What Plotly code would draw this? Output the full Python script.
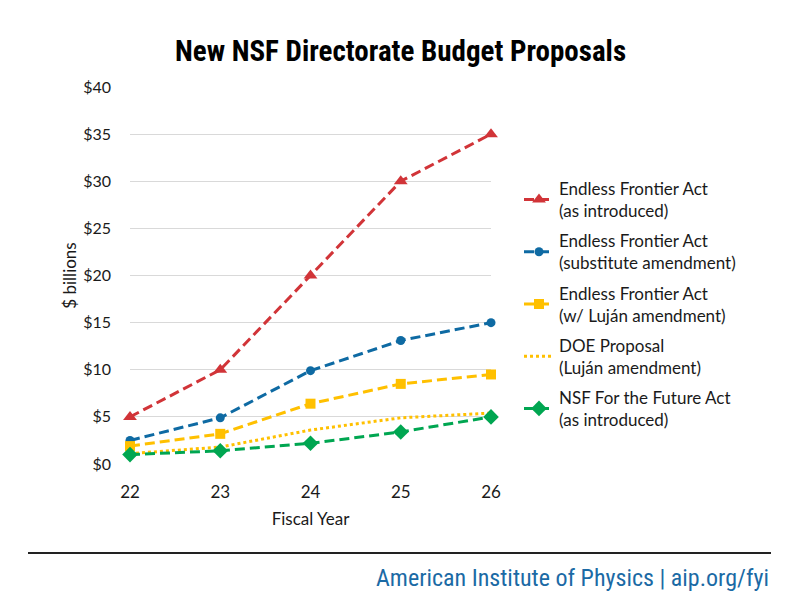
import plotly.graph_objects as go

years = [22, 23, 24, 25, 26]
efa_introduced = [5, 10, 20, 30, 35]
efa_substitute = [2.5, 4.9, 9.9, 13.1, 15.0]
efa_lujan = [1.9, 3.2, 6.4, 8.5, 9.5]
doe_proposal = [1.1, 1.8, 3.6, 4.9, 5.4]
nsf_future = [1.0, 1.4, 2.2, 3.4, 5.0]

names = [
    "Endless Frontier Act<br>(as introduced)",
    "Endless Frontier Act<br>(substitute amendment)",
    "Endless Frontier Act<br>(w/ Luján amendment)",
    "DOE Proposal<br>(Luján amendment)",
    "NSF For the Future Act<br>(as introduced)",
]
y_ticks = [0, 5, 10, 15, 20, 25, 30, 35, 40]
y_labels = ["$" + str(v) for v in y_ticks]

RED = "#D13438"
BLUE = "#0E6AA3"
YEL = "#FFC000"
GRN = "#00A651"

OFF = 8  # default page body margin
W, H = 800 - OFF, 600 - OFF
L, R, T, B = 130 - OFF, 491 - OFF, 87 - OFF, 464 - OFF


def px(x):
    return (x - OFF - L) / (R - L)


def py(y):
    return (B - (y - OFF)) / (B - T)


fig = go.Figure()
series = [
    (efa_introduced, RED, "10px,5px", "triangle-up", 12),
    (efa_substitute, BLUE, "10px,5px", "circle", 9),
    (efa_lujan, YEL, "10px,5px", "square", 10),
    (doe_proposal, YEL, "dot", None, 0),
    (nsf_future, GRN, "10px,5px", "diamond", 12),
]
for i, ((vals, col, dash, sym, sz), name) in enumerate(zip(series, names)):
    mode = "lines+markers" if sym else "lines"
    kw = dict(marker=dict(symbol=sym, size=sz, color=col)) if sym else {}
    fig.add_trace(go.Scatter(
        x=years, y=vals, name=name, mode=mode, cliponaxis=False,
        legendgroup="g%d" % i,
        line=dict(color=col, width=3, dash=dash), **kw))

font_main = "Lato, Carlito, Calibri, sans-serif"
cond = "Liberation Sans Narrow, Roboto Condensed, Arial Narrow, sans-serif"
fig.update_layout(
    width=W, height=H,
    margin=dict(l=L, r=W - R, t=T, b=H - B, autoexpand=False),
    paper_bgcolor="white", plot_bgcolor="white",
    font=dict(family=font_main, size=16, color="#1a1a1a"),
    showlegend=True,
    legend=dict(x=px(519), y=py(171), xanchor="left", yanchor="top",
                font=dict(size=17, family=font_main, color="#1a1a1a"),
                tracegroupgap=5, itemwidth=30, bgcolor="rgba(0,0,0,0)"),
    xaxis=dict(range=[22, 26], tickvals=years, ticktext=[str(v) for v in years],
               showgrid=False, zeroline=False, showline=False, ticks="",
               automargin=False, ticklabelstandoff=16,
               title=dict(text="Fiscal Year", font=dict(size=17), standoff=12),
               tickfont=dict(size=17)),
    yaxis=dict(range=[0, 40], tickvals=y_ticks, ticktext=y_labels,
               showgrid=True, gridcolor="#D9D9D9", gridwidth=1,
               zeroline=False, showline=False, ticks="",
               automargin=False, ticklabelstandoff=18,
               title=dict(text="$ billions", font=dict(size=17), standoff=2),
               tickfont=dict(size=16)),
    annotations=[
        dict(text="<b>New NSF Directorate Budget Proposals</b>", x=px(400), y=py(51),
             xref="paper", yref="paper", xanchor="center", yanchor="middle",
             showarrow=False,
             font=dict(family=cond, size=29, color="#000000")),
        dict(text="American Institute of Physics | aip.org/fyi", x=px(771), y=py(578),
             xref="paper", yref="paper", xanchor="right", yanchor="middle",
             showarrow=False,
             font=dict(family=cond, size=24, color="#1B6AA5")),
    ],
    shapes=[dict(type="line", xref="paper", yref="paper",
                 x0=px(28), x1=px(771), y0=py(553), y1=py(553),
                 line=dict(color="#222222", width=2))],
)

fig.write_html("out.html")
